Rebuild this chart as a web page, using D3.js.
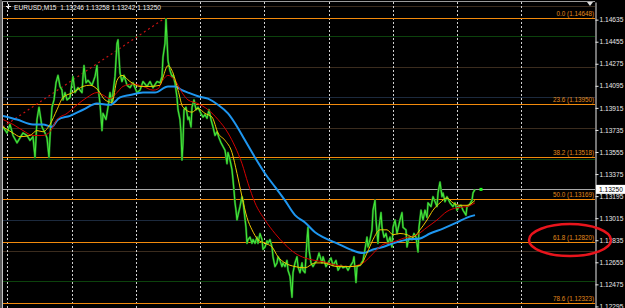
<!DOCTYPE html>
<html>
<head>
<meta charset="utf-8">
<script src="https://cdn.jsdelivr.net/npm/d3@7"></script>
<style>
  html, body { margin: 0; padding: 0; background: #000; overflow: hidden; }
  svg { display: block; font-family: "Liberation Sans", Arial, sans-serif; }
</style>
</head>
<body>
<svg id="chart"></svg>
<script>
// chart header
const symbol = "EURUSD";
const period = "M15";
const ohlc = [1.13246, 1.13258, 1.13242, 1.13250];
const bid = 1.13250;

// price axis labels
const priceTicks = [1.14635, 1.14455, 1.14275, 1.14095, 1.13915, 1.13735, 1.13555,
  1.13375, 1.13195, 1.13015, 1.12835, 1.12655, 1.12475, 1.12295];

// vertical grid (bar index)
const gridBars = [4, 69, 133, 197, 261, 326, 390, 454, 518];

// horizontal levels
const roundLevels = [1.1400, 1.1300];
const halfLevels = [1.1450, 1.1350, 1.1250];
const quarterLevels = [1.1475, 1.1425, 1.1375, 1.1325, 1.1275];

// fibonacci retracement
const fibLevels = ["0.0", "23.6", "38.2", "50.0", "61.8", "78.6"];
const fibPrices = [1.14648, 1.13950, 1.13518, 1.13169, 1.12820, 1.12323];
const fibAnchor = [[-378, 1.11690], [162, 1.14648]];
const highlight = { bar: 567, level: "61.8" };

// close prices [bar, price]
const closes = [[0,1.1376],[4,1.1371],[7,1.1378],[10,1.1369],[14,1.1363],[17,1.1367],[20,1.1371],[24,1.1369],[27,1.1365],[30,1.1368],
  [32,1.1351],[34,1.1382],[36,1.1392],[39,1.1376],[42,1.1371],[44,1.1367],[46,1.1351],[47,1.1368],[49,1.1392],[51,1.1398],
  [53,1.1412],[55,1.1418],[57,1.1409],[59,1.1406],[60,1.1398],[62,1.1404],[64,1.1398],[67,1.1400],[69,1.1412],[70,1.1417],
  [72,1.1404],[75,1.1408],[79,1.1404],[80,1.1417],[81,1.1426],[83,1.1412],[85,1.1414],[89,1.1410],[92,1.1417],[94,1.1426],
  [95,1.1409],[97,1.1395],[99,1.1373],[100,1.1387],[103,1.1382],[105,1.1392],[107,1.1404],[109,1.1395],[110,1.1404],[112,1.1417],
  [114,1.1444],[115,1.1447],[116,1.1433],[117,1.1420],[119,1.1413],[121,1.1418],[124,1.1410],[127,1.1408],[130,1.1412],[134,1.1404],
  [137,1.1406],[140,1.1413],[144,1.1409],[147,1.1413],[150,1.1408],[154,1.1413],[157,1.1412],[159,1.1417],[160,1.1433],[162,1.1444],
  [163,1.1464],[164,1.1447],[165,1.1430],[167,1.1422],[169,1.1417],[170,1.1418],[172,1.1412],[174,1.1400],[175,1.1390],[177,1.1382],
  [178,1.1371],[179,1.1349],[180,1.1363],[181,1.1390],[183,1.1392],[185,1.1382],[186,1.1384],[188,1.1376],[189,1.1392],[191,1.1398],
  [193,1.1390],[195,1.1392],[198,1.1387],[200,1.1384],[202,1.1386],[204,1.1383],[206,1.1390],[208,1.1382],[210,1.1376],[212,1.1369],
  [214,1.1372],[216,1.1367],[218,1.1363],[220,1.1360],[222,1.1357],[224,1.1346],[225,1.1355],[227,1.1349],[229,1.1341],[230,1.1333],
  [231,1.1324],[232,1.1314],[233,1.1308],[234,1.1300],[235,1.1304],[237,1.1311],[239,1.1319],[240,1.1316],[241,1.1308],[243,1.1294],
  [244,1.1281],[245,1.1284],[247,1.1286],[249,1.1281],[250,1.1284],[252,1.1281],[254,1.1286],[255,1.1281],[257,1.1289],[259,1.1284],
  [260,1.1276],[262,1.1278],[264,1.1283],[265,1.1281],[267,1.1284],[269,1.1278],[270,1.1270],[272,1.1262],[274,1.1265],[275,1.1270],
  [277,1.1267],[279,1.1262],[280,1.1265],[282,1.1262],[284,1.1267],[285,1.1259],[287,1.1254],[289,1.1237],[290,1.1257],[292,1.1265],
  [294,1.1270],[295,1.1262],[297,1.1257],[299,1.1265],[300,1.1259],[302,1.1257],[304,1.1284],[305,1.1294],[306,1.1276],[308,1.1265],
  [310,1.1262],[312,1.1265],[314,1.1267],[316,1.1273],[319,1.1265],[320,1.1270],[323,1.1262],[325,1.1265],[328,1.1269],[330,1.1263],
  [333,1.1267],[335,1.1259],[338,1.1263],[340,1.1261],[343,1.1262],[345,1.1259],[347,1.1262],[350,1.1266],[351,1.1270],[353,1.1249],
  [354,1.1262],[357,1.1263],[360,1.1267],[362,1.1276],[364,1.1286],[365,1.1278],[367,1.1284],[369,1.1292],[370,1.1308],[372,1.1316],
  [373,1.1300],[375,1.1281],[376,1.1294],[378,1.1306],[379,1.1294],[381,1.1286],[383,1.1289],[385,1.1281],[387,1.1286],[389,1.1278],
  [390,1.1294],[392,1.1300],[394,1.1289],[397,1.1300],[399,1.1306],[400,1.1294],[403,1.1292],[404,1.1278],[406,1.1286],[409,1.1284],
  [411,1.1289],[413,1.1286],[415,1.1274],[416,1.1294],[418,1.1308],[420,1.1300],[422,1.1308],[424,1.1302],[425,1.1314],[428,1.1311],
  [430,1.1319],[432,1.1315],[434,1.1311],[435,1.1322],[437,1.1331],[439,1.1319],[440,1.1322],[442,1.1315],[444,1.1319],[447,1.1314],
  [450,1.1311],[452,1.1314],[454,1.1308],[456,1.1311],[458,1.1312],[460,1.1308],[463,1.1304],[464,1.1311],[466,1.1312],[469,1.1316],
  [470,1.1322],[472,1.1325]];
const lastTick = [478, 1.13250];

// moving averages [bar, price]
const maFast = [[0,1.1376],[10,1.1371],[17,1.1368],[27,1.1369],[34,1.1373],[40,1.1372],[47,1.1378],[54,1.1390],[60,1.1400],[70,1.1404],
  [80,1.1409],[87,1.1410],[95,1.1406],[102,1.1398],[109,1.1396],[114,1.1414],[119,1.1418],[127,1.1413],[137,1.1409],[147,1.1409],
  [157,1.1410],[159,1.1414],[165,1.1426],[170,1.1420],[175,1.1406],[180,1.1392],[189,1.1388],[195,1.1391],[202,1.1387],[209,1.1384],
  [215,1.1371],[222,1.1365],[229,1.1355],[234,1.1338],[239,1.1319],[244,1.1302],[249,1.1292],[255,1.1284],[262,1.1281],[269,1.1278],
  [275,1.1270],[282,1.1265],[292,1.1262],[302,1.1261],[312,1.1265],[320,1.1265],[334,1.1262],[347,1.1262],[357,1.1263],[364,1.1273],
  [370,1.1284],[377,1.1292],[384,1.1292],[390,1.1288],[397,1.1289],[404,1.1288],[410,1.1286],[417,1.1292],[424,1.1300],[430,1.1308],
  [437,1.1314],[444,1.1318],[450,1.1314],[457,1.1312],[464,1.1312],[472,1.1316]];
const maMid = [[0,1.1382],[10,1.1378],[20,1.1373],[30,1.1369],[40,1.1369],[47,1.1372],[54,1.1382],[64,1.1387],[74,1.1394],[84,1.1400],
  [94,1.1404],[100,1.1402],[107,1.1399],[114,1.1404],[120,1.1409],[130,1.1411],[140,1.1409],[150,1.1406],[155,1.1407],[159,1.1413],
  [165,1.1418],[172,1.1414],[179,1.1404],[185,1.1398],[195,1.1395],[205,1.1390],[215,1.1382],[225,1.1371],[232,1.1360],[239,1.1346],
  [245,1.1330],[252,1.1314],[262,1.1300],[272,1.1289],[282,1.1280],[292,1.1273],[302,1.1269],[312,1.1267],[320,1.1266],[334,1.1263],
  [347,1.1262],[360,1.1265],[367,1.1270],[374,1.1276],[380,1.1280],[390,1.1282],[400,1.1285],[414,1.1288],[424,1.1294],[434,1.1300],
  [444,1.1307],[454,1.1310],[464,1.1311],[472,1.1314]];
const maSlow = [[0,1.1385],[14,1.1382],[30,1.1378],[40,1.1378],[49,1.1376],[55,1.1382],[67,1.1385],[80,1.1390],[94,1.1395],[107,1.1394],
  [117,1.1400],[127,1.1402],[140,1.1404],[152,1.1404],[165,1.1409],[172,1.1409],[179,1.1406],[185,1.1404],[195,1.1401],[205,1.1399],
  [215,1.1394],[225,1.1387],[232,1.1379],[242,1.1365],[252,1.1351],[262,1.1338],[272,1.1327],[282,1.1316],[292,1.1304],[302,1.1298],
  [312,1.1290],[320,1.1286],[334,1.1281],[347,1.1276],[360,1.1273],[370,1.1276],[380,1.1278],[390,1.1281],[404,1.1284],[417,1.1285],
  [427,1.1289],[440,1.1293],[454,1.1298],[464,1.1302],[472,1.1304]];

// dimensions
const width = 625;
const height = 308;
const plotLeft = 3, plotRight = 595, plotTop = 2, plotBottom = 308;

const svg = d3.select("#chart")
  .attr("width", width)
  .attr("height", height);

svg.append("rect").attr("width", width).attr("height", height).attr("fill", "#000");

// scales
const x = d3.scaleLinear().domain([0, 592]).range([plotLeft, plotRight]);
const y = d3.scaleLinear().domain([1.12282, 1.14779]).range([plotBottom, plotTop]);
const snap = v => Math.round(v) + 0.5;

svg.append("clipPath").attr("id", "plot-clip")
  .append("rect")
  .attr("x", plotLeft).attr("y", plotTop)
  .attr("width", plotRight - plotLeft).attr("height", plotBottom - plotTop);

const plot = svg.append("g").attr("clip-path", "url(#plot-clip)");

// horizontal level lines
function levelLines(levels, color) {
  plot.append("g")
    .selectAll("line")
    .data(levels)
    .join("line")
    .attr("x1", plotLeft).attr("x2", plotRight)
    .attr("y1", d => snap(y(d))).attr("y2", d => snap(y(d)))
    .attr("stroke", color)
    .attr("stroke-width", 1);
}
levelLines(quarterLevels, "#3b2c1e");
levelLines(halfLevels, "#0c420c");
levelLines(roundLevels, "#1c2a3e");

// vertical dashed grid
plot.append("g")
  .selectAll("line")
  .data(gridBars)
  .join("line")
  .attr("x1", d => snap(x(d))).attr("x2", d => snap(x(d)))
  .attr("y1", plotTop).attr("y2", plotBottom)
  .attr("stroke", "#d0d0d0")
  .attr("stroke-dasharray", "2,2")
  .attr("stroke-width", 1);

// fibonacci levels
plot.append("g")
  .selectAll("line")
  .data(fibPrices)
  .join("line")
  .attr("x1", plotLeft).attr("x2", plotRight)
  .attr("y1", d => snap(y(d))).attr("y2", d => snap(y(d)))
  .attr("stroke", "#f28a0c")
  .attr("stroke-width", 1);

// fib trend line
plot.append("path")
  .datum(fibAnchor)
  .attr("fill", "none")
  .attr("stroke", "#c81212")
  .attr("stroke-width", 1.2)
  .attr("stroke-dasharray", "2,3")
  .attr("d", d3.line().x(d => x(d[0])).y(d => y(d[1])));

// bid line
plot.append("line")
  .attr("x1", plotLeft).attr("x2", plotRight)
  .attr("y1", snap(y(bid))).attr("y2", snap(y(bid)))
  .attr("stroke", "#a8a8a8")
  .attr("stroke-width", 1);

// price lines
const line = d3.line().x(d => x(d[0])).y(d => y(d[1]));
const smooth = d3.line().x(d => x(d[0])).y(d => y(d[1])).curve(d3.curveMonotoneX);

plot.append("path").datum(closes)
  .attr("fill", "none").attr("stroke", "#1a6e1a").attr("stroke-width", 2.2)
  .attr("stroke-linejoin", "round").attr("d", line);
plot.append("path").datum(closes)
  .attr("fill", "none").attr("stroke", "#44e63a").attr("stroke-width", 1.1)
  .attr("stroke-linejoin", "round").attr("d", line);

plot.append("path").datum(maSlow)
  .attr("fill", "none").attr("stroke", "#1e96f0").attr("stroke-width", 2)
  .attr("d", smooth);
plot.append("path").datum(maMid)
  .attr("fill", "none").attr("stroke", "#d40000").attr("stroke-width", 1)
  .attr("d", smooth);
plot.append("path").datum(maFast)
  .attr("fill", "none").attr("stroke", "#f0c800").attr("stroke-width", 1)
  .attr("d", smooth);

// last tick marker
plot.append("rect")
  .attr("x", x(lastTick[0]) - 1.5).attr("y", y(lastTick[1]) - 1.5)
  .attr("width", 3).attr("height", 3)
  .attr("fill", "#1eff1e");

// fib labels
svg.append("g")
  .selectAll("text")
  .data(fibLevels)
  .join("text")
  .attr("x", plotRight - 1)
  .attr("y", (d, i) => y(fibPrices[i]) - 2)
  .attr("text-anchor", "end")
  .attr("fill", "#e08a1c")
  .style("font-size", "6.3px")
  .text((d, i) => `${d} (${fibPrices[i].toFixed(5)})`);

// borders
svg.append("rect").attr("x", 0).attr("y", 0).attr("width", 2).attr("height", height).attr("fill", "#5a5a5a");
svg.append("line").attr("x1", 2.5).attr("x2", 2.5).attr("y1", 1).attr("y2", height)
  .attr("stroke", "#c4c4c4");
svg.append("line").attr("x1", 2).attr("x2", plotRight).attr("y1", 1.5).attr("y2", 1.5)
  .attr("stroke", "#9a9a9a");

// price axis
const axis = svg.append("g")
  .attr("transform", `translate(${plotRight + 0.5},0)`)
  .call(d3.axisRight(y).tickValues(priceTicks).tickFormat(d3.format(".5f"))
    .tickSize(3).tickSizeOuter(0).tickPadding(1));
axis.select(".domain").attr("stroke", "#e8e8e8");
axis.selectAll(".tick line").attr("stroke", "#e8e8e8");
axis.selectAll(".tick text")
  .attr("fill", "#e8e8e8")
  .style("font-size", "6.6px")
  .style("font-family", "'Liberation Sans', Arial, sans-serif");

// bid label
svg.append("rect")
  .attr("x", plotRight + 1).attr("y", y(bid) - 4.5)
  .attr("width", width - plotRight - 1).attr("height", 9)
  .attr("fill", "#fff");
svg.append("text")
  .attr("x", plotRight + 4).attr("y", y(bid))
  .attr("dy", "0.35em")
  .attr("fill", "#000")
  .style("font-size", "6.6px")
  .text(d3.format(".5f")(bid));

// small menu arrow top right
svg.append("path").attr("d", "M587,2L593,2L590,6Z").attr("fill", "#dcdcdc");

// header
svg.append("path")
  .attr("d", "M6,6.5H11M8.5,4V9")
  .attr("stroke", "#f0f0f0").attr("stroke-width", 1.2);
svg.append("text")
  .attr("x", 14).attr("y", 10)
  .attr("fill", "#f0f0f0")
  .style("font-size", "6.6px")
  .style("white-space", "pre")
  .text(`${symbol},${period}  ${ohlc.map(d3.format(".5f")).join(" ")}`);

// highlight ellipse
const hiPrice = fibPrices[fibLevels.indexOf(highlight.level)];
svg.append("ellipse")
  .attr("cx", x(highlight.bar)).attr("cy", y(hiPrice) - 2)
  .attr("rx", 41).attr("ry", 16)
  .attr("fill", "none")
  .attr("stroke", "#e8141c")
  .attr("stroke-width", 2.5);
</script>
</body>
</html>
